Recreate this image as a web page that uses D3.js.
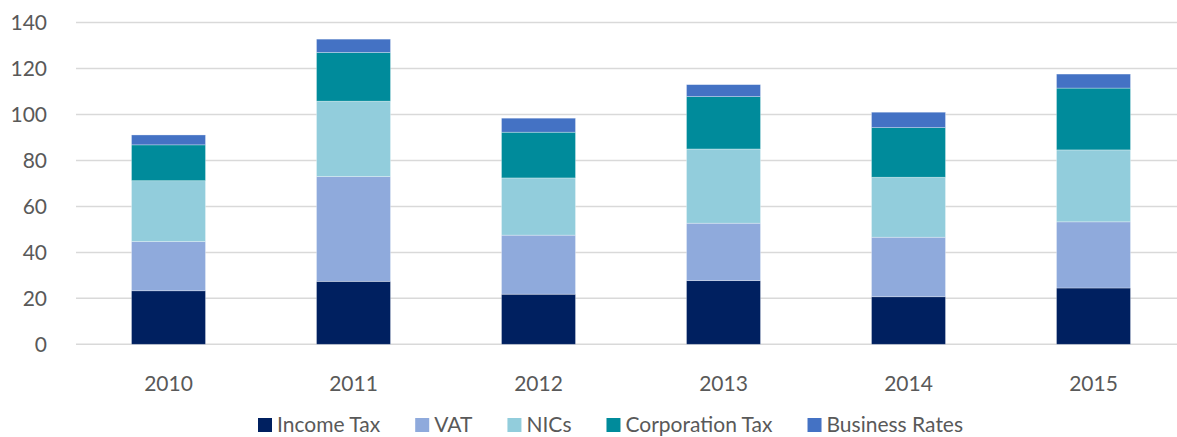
<!DOCTYPE html>
<html>
<head>
<meta charset="utf-8">
<script src="https://cdn.jsdelivr.net/npm/d3@7"></script>
<style>
  body { margin: 0; background: #fff; }
  text { font-family: Lato, "Open Sans", sans-serif; fill: #595959; }
</style>
</head>
<body>
<div id="chart"></div>
<script>
const w = 1177;
const h = 437;

const years = ["2010", "2011", "2012", "2013", "2014", "2015"];
const seriesNames = ["Income Tax", "VAT", "NICs", "Corporation Tax", "Business Rates"];
const incomeTax = [23.3, 27.4, 21.8, 27.7, 20.7, 24.5];
const vat = [21.4, 45.6, 25.7, 25.0, 25.9, 28.8];
const nics = [26.5, 32.8, 24.9, 32.3, 26.1, 31.3];
const corpTax = [15.6, 21.2, 19.9, 22.8, 21.6, 26.9];
const businessRates = [4.3, 5.8, 6.1, 5.2, 6.7, 6.1];
const yTicks = [0, 20, 40, 60, 80, 100, 120, 140];
const colors = ["#002060", "#8faadc", "#92cddc", "#008b9b", "#4472c4"];

const values = [incomeTax, vat, nics, corpTax, businessRates];
const rows = years.map((y, i) => {
    const r = { year: y };
    seriesNames.forEach((s, j) => r[s] = values[j][i]);
    return r;
});

const stack = d3.stack().keys(seriesNames)(rows);

const x = d3.scaleBand().domain(years).range([76, 1186]).paddingInner(0.6).paddingOuter(0.3);
const y = d3.scaleLinear().domain([0, 140]).range([344.3, 22.6]);

const svg = d3.select("#chart").append("svg").attr("width", w).attr("height", h);

// gridlines
svg.append("g")
    .selectAll("line")
    .data(yTicks)
    .enter().append("line")
    .attr("x1", 76).attr("x2", w)
    .attr("y1", d => y(d)).attr("y2", d => y(d))
    .attr("stroke", "#d9d9d9")
    .attr("stroke-width", 1.5);

// y labels
svg.append("g")
    .selectAll("text")
    .data(yTicks)
    .enter().append("text")
    .attr("x", 47)
    .attr("y", d => y(d))
    .attr("dy", "0.36em")
    .attr("text-anchor", "end")
    .style("font-size", "21px")
    .text(d => d);

// bars
svg.append("g")
    .selectAll("g")
    .data(stack)
    .enter().append("g")
    .attr("fill", (d, i) => colors[i])
    .selectAll("rect")
    .data(d => d)
    .enter().append("rect")
    .attr("x", d => x(d.data.year))
    .attr("y", d => y(d[1]))
    .attr("width", x.bandwidth())
    .attr("height", d => y(d[0]) - y(d[1]))
    .attr("stroke", "#ffffff")
    .attr("stroke-opacity", 0.4)
    .attr("stroke-width", 0.75);

// x labels
svg.append("g")
    .selectAll("text")
    .data(years)
    .enter().append("text")
    .attr("x", d => x(d) + x.bandwidth() / 2)
    .attr("y", 391)
    .attr("text-anchor", "middle")
    .style("font-size", "21px")
    .text(d => d);

// legend
const legend = svg.append("g");
let lx = 258;
seriesNames.forEach((s, i) => {
    legend.append("rect")
        .attr("x", lx).attr("y", 418)
        .attr("width", 14).attr("height", 14)
        .attr("fill", colors[i]);
    const t = legend.append("text")
        .attr("x", lx + 19)
        .attr("y", 432)
        .style("font-size", "21px")
        .text(s);
    lx += 19 + t.node().getComputedTextLength() + 35;
});
</script>
</body>
</html>
